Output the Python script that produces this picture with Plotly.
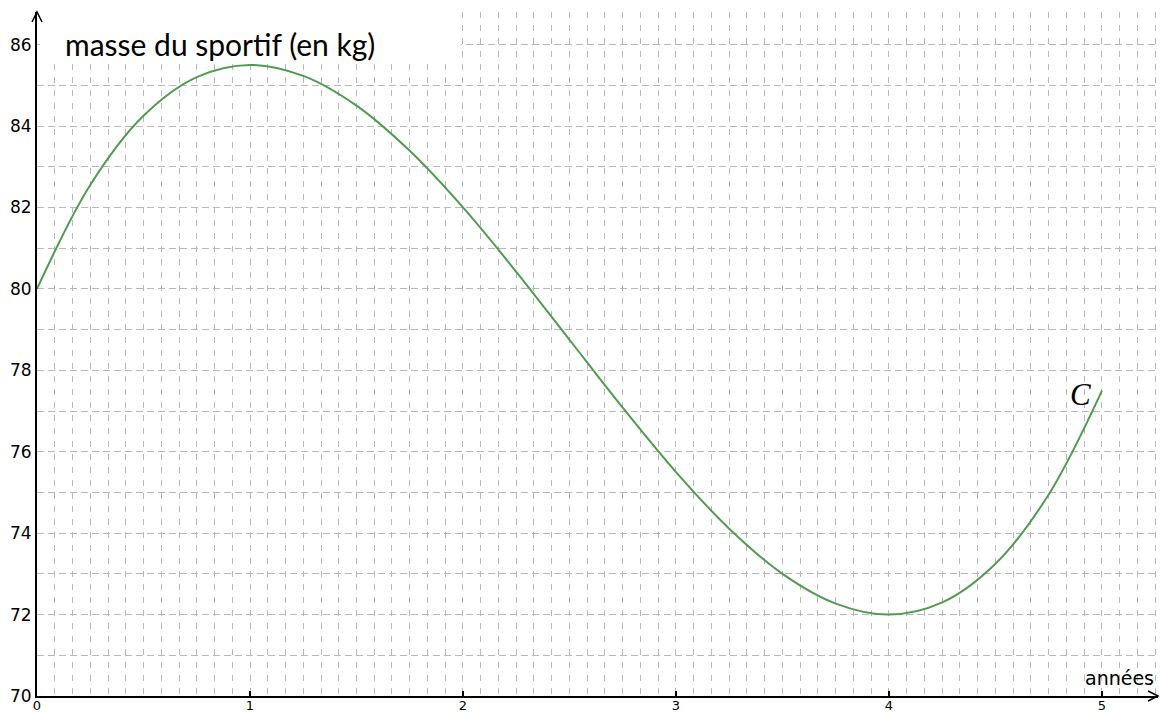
import plotly.graph_objects as go

# ---- data ----
annees = [0, 0.25, 0.5, 0.75, 1, 1.25, 1.5, 1.75, 2, 2.25, 2.5, 2.75, 3,
          3.25, 3.5, 3.75, 4, 4.25, 4.5, 4.75, 5]
masse = [80.0, 82.55, 84.25, 85.2, 85.5, 85.23, 84.5, 83.39, 82.0, 80.42,
         78.75, 77.08, 75.5, 74.11, 73.0, 72.27, 72.0, 72.3, 73.25, 74.95, 77.5]

x_tickvals = [0, 1, 2, 3, 4, 5]
x_ticktext = ["0", "1", "2", "3", "4", "5"]
y_tickvals = list(range(70, 87))
y_ticktext = [str(v) if v % 2 == 0 else "" for v in y_tickvals]

titre_y = "masse du sportif (en kg)"
titre_x = "années"
nom_courbe = "C"

GRID = "#b8b8b8"
GREEN = "rgb(80,155,80)"

fig = go.Figure()
fig.add_trace(go.Scatter(
    x=annees, y=masse, mode="lines",
    line=dict(color=GREEN, width=2, shape="spline", smoothing=1.0),
    hoverinfo="skip", showlegend=False,
))

fig.update_layout(
    width=1160, height=713,
    margin=dict(l=37, r=2, t=12, b=17, autoexpand=False),
    paper_bgcolor="white", plot_bgcolor="white",
    showlegend=False,
    xaxis=dict(
        range=[0, 5.263], automargin=False,
        tickvals=x_tickvals, ticktext=x_ticktext,
        showgrid=True, gridcolor=GRID, gridwidth=1, griddash="6px,7px",
        minor=dict(dtick=1/12, tick0=0, showgrid=True, gridcolor=GRID,
                   gridwidth=1, griddash="6px,7px"),
        showline=True, linecolor="black", linewidth=2,
        ticks="inside", ticklen=5, tickcolor="black", tickwidth=1.5,
        ticklabelstandoff=-4,
        tickfont=dict(family="DejaVu Sans", size=13, color="black"),
        zeroline=False, fixedrange=True,
    ),
    yaxis=dict(
        range=[70, 86.8], automargin=False,
        tickvals=y_tickvals, ticktext=y_ticktext,
        showgrid=True, gridcolor=GRID, gridwidth=1, griddash="7px,4px",
        showline=True, linecolor="black", linewidth=2,
        ticks="",
        tickfont=dict(family="DejaVu Sans", size=17, color="black"),
        zeroline=False, fixedrange=True,
    ),
)

# white box behind the y-axis title (hides the grid)
fig.add_shape(type="rect", xref="x", yref="y", x0=0.014, x1=1.99, y0=85.53, y1=87,
              fillcolor="white", line=dict(width=0), layer="between")

# arrow heads on the axes
fig.add_shape(type="path", xref="paper", yref="paper", xsizemode="pixel",
              ysizemode="pixel", xanchor=0, yanchor=1,
              path="M-5,-10 L0,0 L5,-10", line=dict(color="black", width=1.5))
fig.add_shape(type="path", xref="paper", yref="paper", xsizemode="pixel",
              ysizemode="pixel", xanchor=1, yanchor=0,
              path="M-10,5 L0,0 L-10,-5", line=dict(color="black", width=1.5))

fig.add_annotation(x=0.122, y=86.02, xref="x", yref="y", text=titre_y,
                   showarrow=False, xanchor="left", yanchor="middle",
                   font=dict(family="Lato", size=30, color="black"))
fig.add_annotation(x=5.252, y=70.44, xref="x", yref="y", text=titre_x,
                   showarrow=False, xanchor="right", yanchor="middle",
                   font=dict(family="DejaVu Sans", size=19, color="black"))
fig.add_annotation(x=4.897, y=77.4, xref="x", yref="y", text="<i>" + nom_courbe + "</i>",
                   showarrow=False, xanchor="center", yanchor="middle",
                   font=dict(family="Liberation Serif", size=31, color="black"))

fig.write_html("out.html", config={"displayModeBar": False},
               post_script="document.body.style.margin='0';document.body.style.overflow='hidden';")
